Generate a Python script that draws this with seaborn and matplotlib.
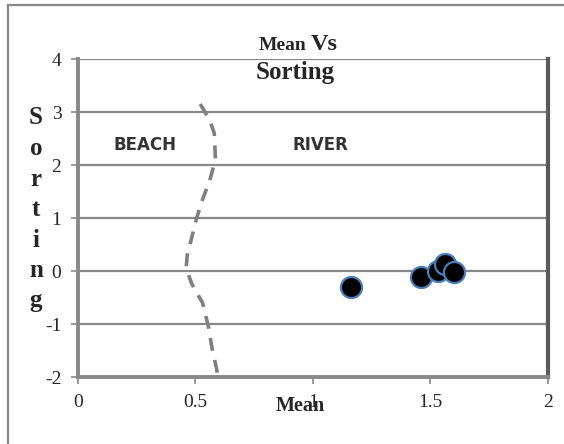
import matplotlib
matplotlib.use("Agg")
import matplotlib.pyplot as plt
import seaborn as sns
import pandas as pd
from matplotlib.patches import Rectangle

# sample points (mean, sorting)
mean_vals = [1.16, 1.46, 1.53, 1.56, 1.60]
sorting_vals = [-0.31, -0.12, 0.0, 0.14, -0.02]

# dashed beach / river boundary
bound_x = [0.52, 0.56, 0.58, 0.585, 0.56, 0.53, 0.505, 0.485, 0.465, 0.46,
           0.485, 0.53, 0.555, 0.57, 0.59, 0.595]
bound_y = [3.15, 2.85, 2.6, 2.1, 1.7, 1.35, 1.0, 0.65, 0.3, 0.05,
           -0.25, -0.6, -1.05, -1.45, -1.85, -2.0]

x_ticks = [0, 0.5, 1, 1.5, 2]
x_tick_labels = ["0", "0.5", "1", "1.5", "2"]
y_ticks = [-2, -1, 0, 1, 2, 3, 4]

sns.set_theme(style="white")
plt.rcParams["font.family"] = ["Liberation Serif", "DejaVu Serif"]
plt.rcParams["axes.unicode_minus"] = False

fig = plt.figure(figsize=(5.64, 4.44), dpi=100)
ax = fig.add_axes([0.1383, 0.1509, 0.8333, 0.7162])

grey = "#888888"
for y in y_ticks:
    ax.axhline(y, color=grey, lw=1.6, zorder=0)

bound = pd.DataFrame({"x": bound_x, "y": bound_y})
sns.lineplot(data=bound, x="x", y="y", sort=False, estimator=None, ax=ax,
             color="#7f7f7f", lw=2.6, dashes=False, zorder=2)
ax.lines[-1].set_dashes([3.6, 2.6])

pts = pd.DataFrame({"mean": mean_vals, "sorting": sorting_vals})
sns.scatterplot(data=pts, x="mean", y="sorting", ax=ax, s=230, color="black",
                edgecolor="#4a7ebb", linewidth=1.6, zorder=3)

ax.set_xlim(0, 2)
ax.set_ylim(-2, 4)
ax.set_xticks(x_ticks)
ax.set_xticklabels(x_tick_labels)
ax.set_yticks(y_ticks)
ax.tick_params(axis="both", which="both", length=5, width=1.2, color=grey,
               labelsize=14, pad=7, direction="out", left=True, bottom=True)
ax.set_xlabel("")
ax.set_ylabel("")

for side in ["left", "bottom"]:
    ax.spines[side].set_color(grey)
    ax.spines[side].set_linewidth(2.8)
ax.spines["right"].set_color("#5a5a5a")
ax.spines["right"].set_linewidth(3)
ax.spines["top"].set_visible(False)

ax.text(0.287, 2.38, "BEACH", family=["DejaVu Sans"], fontweight="bold",
        fontsize=12, color="#333333", ha="center", va="center")
ax.text(1.03, 2.38, "RIVER", family=["DejaVu Sans"], fontweight="bold",
        fontsize=12, color="#333333", ha="center", va="center")

# title
fig.text(306 / 564, 1 - 45 / 444, "Mean", fontsize=14, fontweight="bold",
         ha="right", va="center")
fig.text(311 / 564, 1 - 44 / 444, "Vs", fontsize=17.5, fontweight="bold",
         ha="left", va="center")
fig.text(295 / 564, 1 - 72 / 444, "Sorting", fontsize=18, fontweight="bold",
         ha="center", va="center")

# axis labels
fig.text(300 / 564, 1 - 406 / 444, "Mean", fontsize=14.5, fontweight="bold",
         ha="center", va="center")
for i, ch in enumerate("Sorting"):
    fig.text(36 / 564, 1 - (118 + i * 30.5) / 444, ch, fontsize=18,
             fontweight="bold", ha="center", va="center")

# outer frame
fig.add_artist(Rectangle((8 / 564, -0.5), 2, 0.5 + 1 - 5 / 444,
                         transform=fig.transFigure, fill=False,
                         edgecolor=grey, lw=1.6))

fig.savefig("out.png", dpi=100)
